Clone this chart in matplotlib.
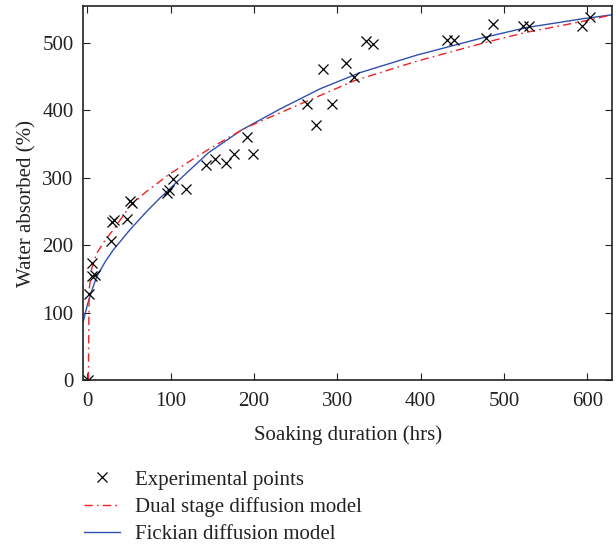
import matplotlib
matplotlib.use("Agg")
import matplotlib.pyplot as plt

plt.rcParams['font.family'] = ['Liberation Serif', 'DejaVu Serif']

# Experimental points
exp_x = [1, 2, 6, 5, 9, 28, 30, 32, 48, 51, 54, 96, 98, 103, 118, 142, 153, 166,
         176, 192, 199, 264, 274, 283, 294, 310, 320, 334, 343, 431, 440, 478,
         487, 523, 530, 594, 603]
exp_y = [0, 127, 173, 155, 156, 207, 235, 237, 239, 266, 262, 278, 282, 298, 284,
         319, 328, 322, 336, 361, 336, 410, 378, 461, 410, 471, 450, 503, 499,
         504, 505, 508, 529, 526, 525, 526, 539]

# Dual stage diffusion model
dual_x = [1, 1.5, 2, 5, 11, 21, 31, 51, 71, 99, 127, 145, 185, 195, 247, 264,
          320, 395, 478, 527, 594, 630]
dual_y = [0, 60, 134, 165, 188, 207, 223, 258, 280, 306, 328, 342, 371, 377,
          405, 414, 444, 473, 501, 516, 532, 542]

# Fickian diffusion model
fick_x = [-5, 0, 5, 11, 21, 31, 51, 71, 87, 111, 145, 185, 231, 279, 327, 395,
          475, 527, 594, 630]
fick_y = [87, 112, 132, 153, 175, 193, 223, 250, 270, 298, 337, 371, 402, 432,
          456, 482, 508, 523, 536, 542]

x_ticks = [0, 100, 200, 300, 400, 500, 600]
y_ticks = [0, 100, 200, 300, 400, 500]

FS = 15

fig = plt.figure(figsize=(6.16, 5.44), dpi=100)
ax = fig.add_axes([83.3 / 616, 1 - 380 / 544, (612.3 - 83.3) / 616, (380 - 6) / 544])

red = '#ee2222'
blue = '#3050b0'
txt = '#222222'

l_fick, = ax.plot(fick_x, fick_y, '-', color=blue, lw=1.0)
l_dual, = ax.plot(dual_x, dual_y, color=red, lw=1.0, dashes=[6, 3, 1.2, 3])
l_exp, = ax.plot(exp_x, exp_y, 'x', color='black', ms=7.5, mew=0.9, linestyle='none')

ax.set_xlim(-5, 630)
ax.set_ylim(0, 555)
ax.set_xticks(x_ticks)
ax.set_yticks(y_ticks)
ax.tick_params(direction='in', top=True, right=True, length=5, width=0.8,
               labelsize=FS, colors=txt)
ax.tick_params(axis='x', pad=9)
ax.tick_params(axis='y', pad=7)
for s in ax.spines.values():
    s.set_linewidth(1.2)
    s.set_color(txt)

ax.set_xlabel('Soaking duration (hrs)', fontsize=FS, color=txt, labelpad=10)
ax.set_ylabel('Water absorbed (%)', fontsize=FS, color=txt)
ax.yaxis.set_label_coords(-0.088, 0.473)

fig.legend(handles=[l_exp, l_dual, l_fick],
           labels=['Experimental points', 'Dual stage diffusion model', 'Fickian diffusion model'],
           loc='upper left', bbox_to_anchor=(84 / 616, 1 - 470 / 544),
           frameon=False, fontsize=FS, handlelength=1.75, handletextpad=0.7,
           labelspacing=0.36, borderpad=0, borderaxespad=0, labelcolor=txt)

fig.savefig('out.png', dpi=100)
